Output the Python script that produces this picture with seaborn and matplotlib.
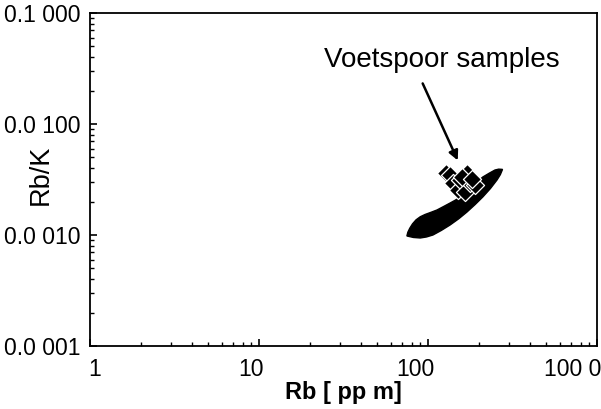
import matplotlib
matplotlib.use("Agg")
import matplotlib.pyplot as plt
import matplotlib.transforms as mtransforms
import seaborn as sns
import pandas as pd

# ---- data ----
# outline of the reference field (black filled area)
field_rb = [75, 82, 90, 98, 107, 120, 135, 152, 170, 190, 211, 234, 256, 268, 276,
            262, 249, 230, 211, 195, 182, 168, 155, 145, 135, 124, 113, 104, 96, 90, 85, 81, 78, 76]
field_rbk = [0.00098, 0.00095, 0.00094, 0.00096, 0.00100, 0.00110, 0.00123, 0.00140, 0.00161,
             0.00188, 0.00220, 0.00262, 0.00313, 0.00350, 0.00390,
             0.00392, 0.00385, 0.00360, 0.00333, 0.00300, 0.00270, 0.00243, 0.00220, 0.00206,
             0.00194, 0.00181, 0.00168, 0.00160, 0.00153, 0.00146, 0.00137, 0.00126, 0.00115, 0.00106]

# Voetspoor samples
samp_rb = [128, 135, 141, 151, 155, 166, 170, 177, 190, 160, 183]
samp_rbk = [0.00365, 0.00348, 0.00294, 0.00254, 0.00313, 0.00244, 0.00362, 0.00294, 0.00282,
            0.00335, 0.00320]

x_ticks = [1, 10, 100, 1000]
x_ticklabels = ["1", "10", "100", "100 0"]
y_ticks = [0.0001, 0.001, 0.01, 0.1]
y_ticklabels = ["0.0 001", "0.0 010", "0.0 100", "0.1 000"]

annot_text = "Voetspoor samples"

# ---- plot ----
sns.set_theme(style="ticks")
plt.rcParams['font.family'] = ['Liberation Sans', 'DejaVu Sans']

fig = plt.figure(figsize=(6.01, 4.09), dpi=100)
ax = fig.add_axes([90 / 601, 1 - 346 / 409, (597 - 90) / 601, (346 - 13) / 409])

ax.set_xscale("log")
ax.set_yscale("log")
ax.set_xlim(1, 1000)
ax.set_ylim(0.0001, 0.1)

ax.fill(field_rb, field_rbk, color="black", lw=1.0, ec="black", zorder=2)

df = pd.DataFrame({"Rb": samp_rb, "RbK": samp_rbk})
sns.scatterplot(data=df, x="Rb", y="RbK", marker="D", s=85, color="black",
                edgecolor="white", linewidth=0.9, ax=ax, zorder=3, legend=False)

ax.set_xticks(x_ticks)
ax.set_xticklabels(x_ticklabels)
ax.set_yticks(y_ticks)
ax.set_yticklabels(y_ticklabels)

ax.tick_params(axis="both", which="major", direction="in", length=5, width=1.2,
               labelsize=16.5, colors="black", pad=7)
ax.tick_params(axis="both", which="minor", direction="in", length=3, width=1.0, colors="black")
ax.tick_params(axis="x", which="major", pad=9)

# slight horizontal offsets of the x tick labels as in the reference
x_offsets_px = [5, -8, -13, -24]
for lab, dx in zip(ax.get_xticklabels(), x_offsets_px):
    lab.set_transform(lab.get_transform() +
                      mtransforms.ScaledTranslation(dx / 100, 0, fig.dpi_scale_trans))

for s in ax.spines.values():
    s.set_visible(True)
    s.set_linewidth(1.3)
    s.set_color("black")

ax.set_xlabel("Rb [ pp m]", fontsize=17, fontweight="bold", labelpad=0, color="black")
ax.set_ylabel("Rb/K", fontsize=19.5, color="black")
ax.yaxis.set_label_coords((54 - 90) / 507, (346 - 175) / 333)

ax.text(121, 0.0375, annot_text, fontsize=20, ha="center", va="center", color="black")
ax.annotate("", xy=(150, 0.0047), xytext=(93, 0.0232),
            arrowprops=dict(arrowstyle="-|>", color="black", lw=1.8,
                            mutation_scale=14, shrinkA=0, shrinkB=0))

fig.savefig("out.png", dpi=100)
